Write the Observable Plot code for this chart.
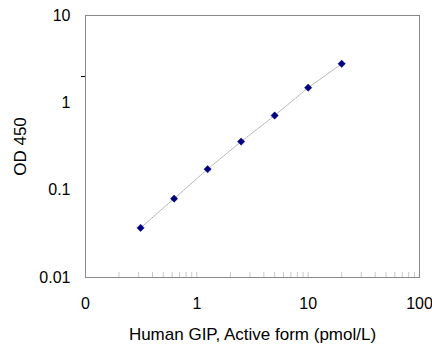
<!DOCTYPE html>
<html><head><meta charset="utf-8">
<script src="https://cdn.jsdelivr.net/npm/d3@7"></script>
<script src="https://cdn.jsdelivr.net/npm/@observablehq/plot@0.6"></script>
<style>body{margin:0;background:#fff} g[aria-label="x-axis label"] text, g[aria-label="y-axis label"] text{font-size:17px}</style>
</head><body><div id="chart"></div>
<script>
const concentration = [0.3125, 0.625, 1.25, 2.5, 5, 10, 20];
const od450 = [0.037, 0.080, 0.174, 0.360, 0.716, 1.49, 2.80];
const xTickValues = [0.1, 1, 10, 100];
const xTickLabels = ["0", "1", "10", "100"];
const yTickValues = [0.01, 0.1, 1, 10];
const yTickLabels = ["0.01", "0.1", "1", "10"];
const xMinorTicks = [0.2, 0.3, 0.4, 0.5, 0.6, 0.7, 0.8, 0.9, 1, 2, 3, 4, 5, 6, 7, 8, 9, 10, 20, 30, 40, 50, 60, 70, 80, 90];
const yStrayTick = [2];

const data = concentration.map((c, i) => ({x: c, y: od450[i]}));
const fmt = (vals, labs) => d => labs[vals.findIndex(v => Math.abs(v - d) < 1e-9)] ?? "";

const chart = Plot.plot({
  width: 432, height: 356,
  marginLeft: 85, marginRight: 13, marginTop: 15, marginBottom: 79,
  style: {fontFamily: "'Liberation Sans', Arial, sans-serif", fontSize: "16px", color: "#000", background: "#fff"},
  x: {type: "log", domain: [0.1, 100]},
  y: {type: "log", domain: [0.01, 10]},
  marks: [
    Plot.axisX(xMinorTicks, {tickSize: -5, tickFormat: () => "", stroke: "#c8c8c8", label: null}),
    Plot.axisX(xTickValues, {tickSize: 0, tickPadding: 20, tickFormat: fmt(xTickValues, xTickLabels), fontSize: 16,
      label: "Human GIP, Active form (pmol/L)", labelAnchor: "center", labelArrow: "none", labelOffset: 62}),
    Plot.axisY(yStrayTick, {tickSize: 4, tickFormat: () => "", stroke: "#000", label: null}),
    Plot.axisY(yTickValues, {tickSize: 0, tickPadding: 15, tickFormat: fmt(yTickValues, yTickLabels), fontSize: 16,
      label: "OD 450", labelAnchor: "center", labelArrow: "none", labelOffset: 72}),
    Plot.frame({stroke: "#888"}),
    Plot.line(data, {x: "x", y: "y", stroke: "#b0b0b0", strokeWidth: 1, strokeDasharray: "1.5,1"}),
    Plot.dot(data, {x: "x", y: "y", symbol: "diamond2", r: 3.3, fill: "#000080", stroke: "#000080", strokeWidth: 0.5})
  ]
});
document.getElementById("chart").append(chart);
</script>
</body></html>
